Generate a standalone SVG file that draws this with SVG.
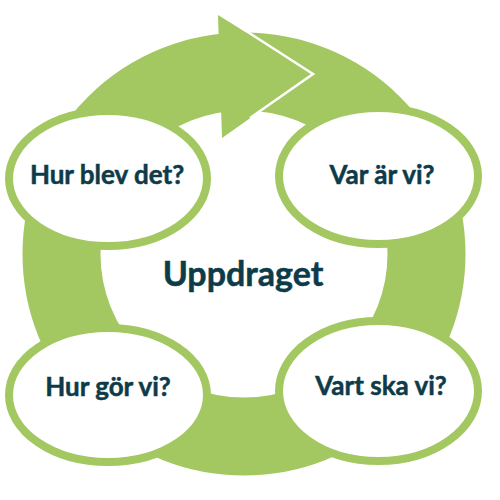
<svg xmlns="http://www.w3.org/2000/svg" width="500" height="500" viewBox="0 0 500 500">
<style>
.ring{fill:none;stroke:#A3C861;stroke-width:78}
.head{fill:#A3C861}
.sep{fill:none;stroke:#FFFFFF;stroke-width:2.5;stroke-linejoin:miter}
.node ellipse{fill:#FFFFFF;stroke:#A3C861;stroke-width:8}
.lbl{font-family:Lato,"Open Sans","Liberation Sans",sans-serif;font-weight:bold;fill:#0D3B49;text-anchor:middle;stroke:#0D3B49;stroke-width:0.5}
.small{font-size:26px}
.big{font-size:34px}
</style>
<rect width="500" height="500" fill="#FFFFFF"/>
<g id="connectors">
<circle class="ring" cx="244" cy="254" r="182.5"/>
<polygon class="head" points="218,15 313,74 222,138"/>
<polyline class="sep" points="240,27 313,74 250,118"/>
</g>
<g id="center">
<text class="lbl big" x="243" y="286">Uppdraget</text>
</g>
<g id="node-hur-blev" class="node">
<ellipse cx="108" cy="178.5" rx="99" ry="67.5"/>
<text class="lbl small" x="107" y="184">Hur blev det?</text>
</g>
<g id="node-var-ar" class="node">
<ellipse cx="378.5" cy="176" rx="99.5" ry="68"/>
<text class="lbl small" x="382" y="184">Var är vi?</text>
</g>
<g id="node-hur-gor" class="node">
<ellipse cx="108" cy="395" rx="99" ry="67"/>
<text class="lbl small" x="108" y="396">Hur gör vi?</text>
</g>
<g id="node-vart-ska" class="node">
<ellipse cx="378.5" cy="391" rx="99.5" ry="70"/>
<text class="lbl small" x="381" y="395">Vart ska vi?</text>
</g>
</svg>
